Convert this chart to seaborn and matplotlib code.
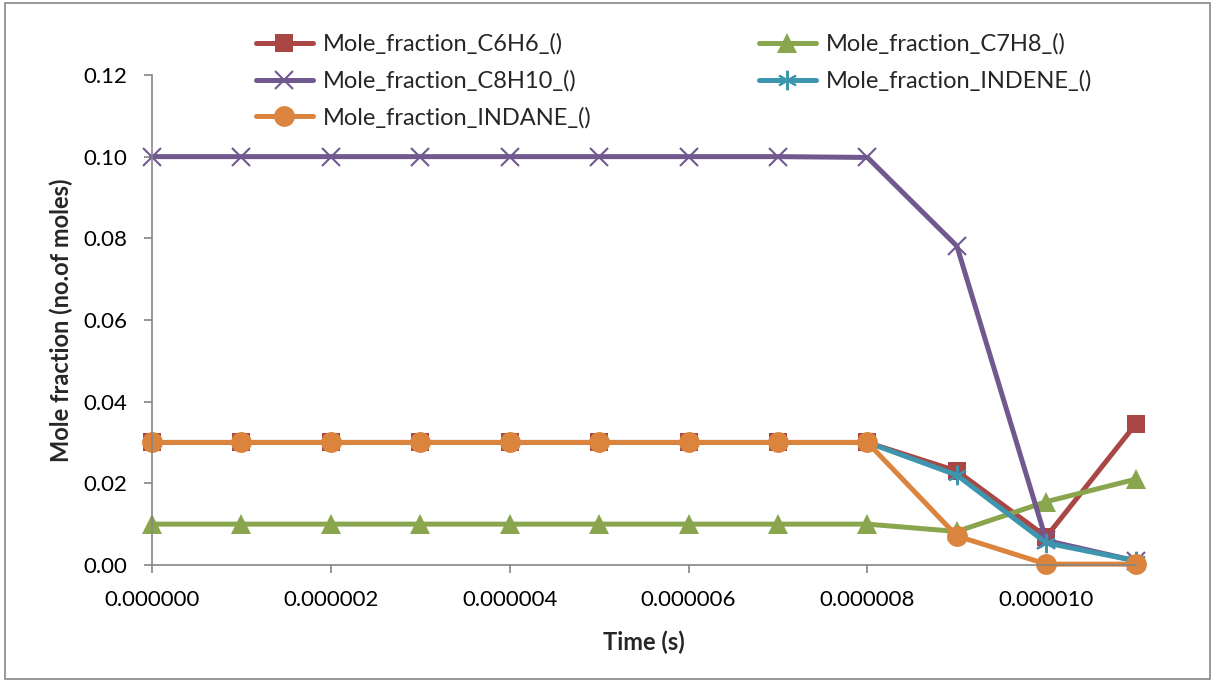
import numpy as np
import pandas as pd
import matplotlib
matplotlib.use('Agg')
import matplotlib.pyplot as plt
import seaborn as sns
from matplotlib.ticker import MultipleLocator, FormatStrFormatter
from matplotlib.patches import Rectangle

# data
time_s = [0.0, 1e-6, 2e-6, 3e-6, 4e-6, 5e-6, 6e-6, 7e-6, 8e-6, 9e-6, 1.0e-5, 1.1e-5]
c6h6 = [0.03, 0.03, 0.03, 0.03, 0.03, 0.03, 0.03, 0.03, 0.03, 0.0230, 0.0069, 0.0345]
c7h8 = [0.01, 0.01, 0.01, 0.01, 0.01, 0.01, 0.01, 0.01, 0.01, 0.0082, 0.0155, 0.0210]
c8h10 = [0.1, 0.1, 0.1, 0.1, 0.1, 0.1, 0.1, 0.1, 0.0998, 0.0781, 0.0060, 0.0010]
indene = [0.03, 0.03, 0.03, 0.03, 0.03, 0.03, 0.03, 0.03, 0.03, 0.0220, 0.0054, 0.0010]
indane = [0.03, 0.03, 0.03, 0.03, 0.03, 0.03, 0.03, 0.03, 0.03, 0.0071, 0.0002, 0.0002]

names = ['Mole_fraction_C6H6_()', 'Mole_fraction_C7H8_()', 'Mole_fraction_C8H10_()',
         'Mole_fraction_INDENE_()', 'Mole_fraction_INDANE_()']
series = [c6h6, c7h8, c8h10, indene, indane]

colors = ['#AA4643', '#89A54E', '#71588F', '#3D96AE', '#DB843D']
markers = ['s', '^', 'x', (6, 2, 0), 'o']
msizes = [13, 14, 13, 14, 15]

sns.set_style('white')
plt.rcParams['font.family'] = ['Lato', 'DejaVu Sans']

fig = plt.figure(figsize=(12.16, 6.82), dpi=100)
ax = fig.add_axes([0.125, 0.1716, 0.809, 0.7185])

handles = {}
for name, vals, c, m, ms in zip(names, series, colors, markers, msizes):
    df = pd.DataFrame({'t': time_s, 'y': vals})
    sns.lineplot(data=df, x='t', y='y', ax=ax, color=c, lw=3.6, marker=m,
                 markersize=ms, markeredgecolor=c, markeredgewidth=1.5 if m in ('x', (6, 2, 0)) else 0,
                 label=name, clip_on=False)
    handles[name] = ax.lines[-1]

ax.set_xlim(0, 1.1e-5)
ax.set_ylim(0, 0.12)
ax.xaxis.set_major_locator(MultipleLocator(2e-6))
ax.xaxis.set_major_formatter(FormatStrFormatter('%.6f'))
ax.yaxis.set_major_locator(MultipleLocator(0.02))
ax.yaxis.set_major_formatter(FormatStrFormatter('%.2f'))

for s in ['top', 'right']:
    ax.spines[s].set_visible(False)
for s in ['left', 'bottom']:
    ax.spines[s].set_color('#868686')
    ax.spines[s].set_linewidth(1.2)
ax.tick_params(axis='both', direction='out', length=6, width=1.2, color='#868686',
               labelsize=16, labelcolor='black')
ax.tick_params(axis='y', pad=12)
ax.tick_params(axis='x', pad=12)
ax.tick_params(bottom=True, left=True)

ax.set_xlabel('Time (s)', fontsize=17, fontweight='bold', labelpad=15)
ax.set_ylabel('Mole fraction (no.of moles)', fontsize=17, fontweight='bold', labelpad=7)

ax.get_legend().remove()
order = [names[0], names[2], names[4], names[1], names[3]]
fig.legend([handles[n] for n in order], order, loc='upper left',
           bbox_to_anchor=(0.2105, 0.951), ncol=2, frameon=False, fontsize=17,
           handlelength=2.4, handletextpad=0.42, columnspacing=7.1, labelspacing=0.65,
           borderpad=0, borderaxespad=0)

fig.patches.append(Rectangle((0.004, 0.004), 0.991, 0.991, transform=fig.transFigure,
                             fill=False, edgecolor='#868686', lw=1.2))

fig.savefig('out.png', dpi=100)
